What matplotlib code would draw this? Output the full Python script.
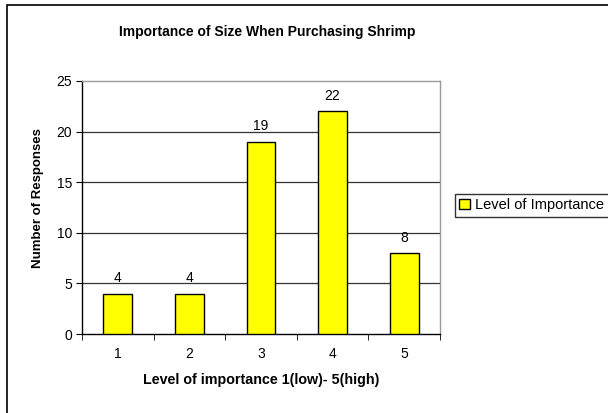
import matplotlib
matplotlib.use("Agg")
import matplotlib.pyplot as plt
from matplotlib.patches import Rectangle
import numpy as np

plt.rcParams['font.family'] = ['Liberation Sans', 'DejaVu Sans']

categories = ["1", "2", "3", "4", "5"]
values = [4, 4, 19, 22, 8]
yticks = [0, 5, 10, 15, 20, 25]
title = "Importance of Size When Purchasing Shrimp"
xlabel = "Level of importance 1(low)- 5(high)"
ylabel = "Number of Responses"
series_name = "Level of Importance"

W, H = 608, 413
fig = plt.figure(figsize=(W/100, H/100), dpi=100)
fig.patch.set_facecolor("white")

# outer chart border
fig.patches.append(Rectangle((7/W, -0.05), 1.1, 1 - 5/H + 0.05, transform=fig.transFigure,
                             fill=False, edgecolor="black", linewidth=1.2))

ax = fig.add_axes([82/W, 1 - 334/H, (440-82)/W, (334-81)/H])
x = np.arange(len(categories))
ax.bar(x, values, width=0.4, color="#FFFF00", edgecolor="black", linewidth=1.0, zorder=3)
ax.set_xlim(-0.5, len(categories) - 0.5)
ax.set_ylim(0, 25)
ax.set_yticks(yticks)
ax.set_yticklabels([str(t) for t in yticks], fontsize=10)
ax.set_xticks(x)
ax.set_xticklabels(categories, fontsize=10)
ax.set_xticks(np.arange(-0.5, len(categories)), minor=True)
ax.tick_params(axis='x', which='major', length=0, pad=9)
ax.tick_params(axis='x', which='minor', length=4, direction='out', color='black')
ax.tick_params(axis='y', length=4, direction='out', pad=3)
for g in yticks[1:-1]:
    ax.axhline(g, color="#333333", linewidth=0.9, zorder=1)
for s in ['top', 'right']:
    ax.spines[s].set_color("#999999")
    ax.spines[s].set_linewidth(1.0)
for s in ['left', 'bottom']:
    ax.spines[s].set_color("black")
    ax.spines[s].set_linewidth(1.0)

for xi, v in zip(x, values):
    ax.annotate(str(v), (xi, v), xytext=(0, 6), textcoords="offset points",
                ha="center", va="bottom", fontsize=10)

ax.set_ylabel(ylabel, fontsize=9.5, fontweight="bold")
ax.yaxis.set_label_coords(-38/358, (334-198)/253)
ax.set_xlabel(xlabel, fontsize=10.3, fontweight="bold", labelpad=9)

fig.text(267/W, 1 - 32/H, title, ha="center", va="center", fontsize=10, fontweight="bold")

handle = Rectangle((0, 0), 1, 1, facecolor="#FFFF00", edgecolor="black", linewidth=1.0)
leg = fig.legend([handle], [series_name], loc="upper left",
                 bbox_to_anchor=(455/W, 1 - 194/H), fontsize=10.5, frameon=True,
                 fancybox=False, handlelength=0.7, handleheight=0.7, handletextpad=0.4,
                 borderpad=0.3, borderaxespad=0)
leg.get_frame().set_edgecolor("black")
leg.get_frame().set_linewidth(1.0)

fig.savefig("out.png", dpi=100)
